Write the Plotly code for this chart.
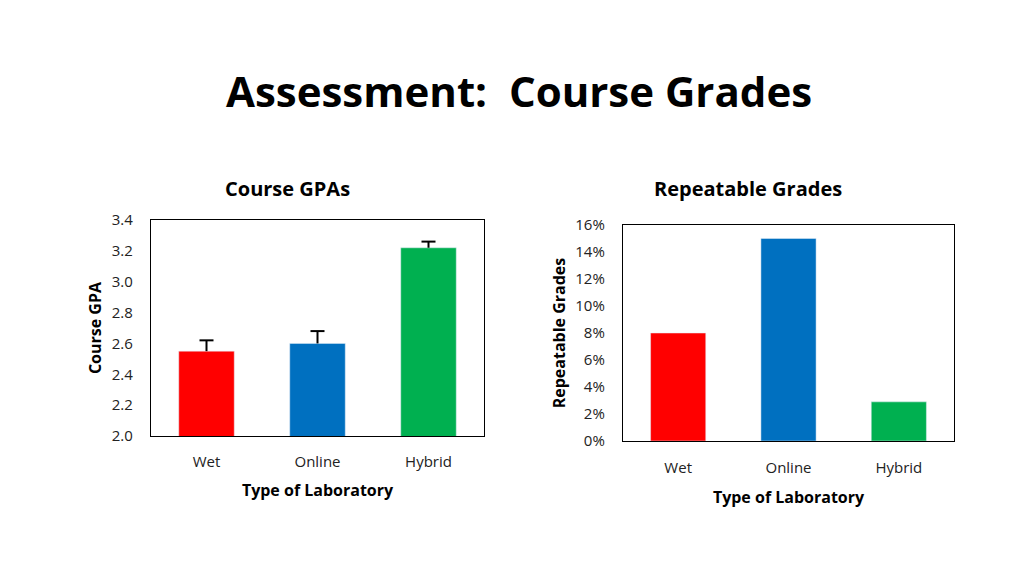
import plotly.graph_objects as go

labs = ["Wet", "Online", "Hybrid"]
colors = ["#ff0000", "#0070c0", "#00b050"]

gpa = [2.55, 2.60, 3.22]
gpa_err = [0.07, 0.08, 0.04]

repeat_pct = [8.0, 15.0, 2.9]

font = "Open Sans"
W, H = 1024, 576
OFF = 8  # page body margin in the browser


def px_x(v):
    return (v - OFF) / W


def px_y(v):
    return 1 - (v - OFF) / H


fig = go.Figure()
fig.add_trace(go.Bar(
    x=labs, y=gpa, marker_color=colors, width=0.5,
    xaxis="x", yaxis="y", showlegend=False,
))
# upper-only error bars: stem from bar top, cap drawn as a marker
tops = [g + e for g, e in zip(gpa, gpa_err)]
fig.add_trace(go.Scatter(
    x=labs, y=tops, mode="markers",
    marker=dict(symbol="line-ew-open", size=10, color="black", line=dict(color="black", width=2)),
    error_y=dict(type="data", array=[0, 0, 0], arrayminus=gpa_err, symmetric=False,
                 color="black", thickness=2, width=0),
    xaxis="x", yaxis="y", showlegend=False, hoverinfo="skip",
))
fig.add_trace(go.Bar(
    x=labs, y=repeat_pct, marker_color=colors, width=0.5,
    xaxis="x2", yaxis="y2", showlegend=False,
))

ax_common = dict(showline=True, linecolor="black", linewidth=1.3, mirror=True,
                 showgrid=False, zeroline=False, ticks="",
                 tickfont=dict(family=font, size=15, color="#222"))

fig.update_layout(
    width=W, height=H,
    margin=dict(l=0, r=0, t=0, b=0, autoexpand=False),
    paper_bgcolor="white", plot_bgcolor="white",
    font=dict(family=font, color="black"),
    title=dict(text="<b>Assessment:  Course Grades</b>", x=px_x(519), xanchor="center",
               y=px_y(92), yanchor="middle",
               font=dict(family=font, size=42, color="black")),
    xaxis=dict(domain=[px_x(151), px_x(484)], anchor="y",
               title=dict(text="<b>Type of Laboratory</b>", font=dict(size=16), standoff=14),
               ticklabelstandoff=12, **ax_common),
    yaxis=dict(domain=[px_y(436), px_y(220)], anchor="x",
               range=[2.0, 3.4], dtick=0.2, tickformat=".1f",
               title=dict(text="<b>Course GPA</b>", font=dict(size=16), standoff=6),
               ticklabelstandoff=14, **ax_common),
    xaxis2=dict(domain=[px_x(623), px_x(954)], anchor="y2",
                title=dict(text="<b>Type of Laboratory</b>", font=dict(size=16), standoff=15),
                ticklabelstandoff=13, **ax_common),
    yaxis2=dict(domain=[px_y(441), px_y(225)], anchor="x2",
                range=[0, 16], dtick=2, ticksuffix="%",
                title=dict(text="<b>Repeatable Grades</b>", font=dict(size=16), standoff=5),
                ticklabelstandoff=14, **ax_common),
    annotations=[
        dict(text="<b>Course GPAs</b>", x=px_x(287), y=px_y(188), xref="paper", yref="paper",
             showarrow=False, xanchor="center", yanchor="middle",
             font=dict(family=font, size=20, color="black")),
        dict(text="<b>Repeatable Grades</b>", x=px_x(748), y=px_y(188), xref="paper", yref="paper",
             showarrow=False, xanchor="center", yanchor="middle",
             font=dict(family=font, size=20, color="black")),
    ],
)

fig.write_html("out.html")
